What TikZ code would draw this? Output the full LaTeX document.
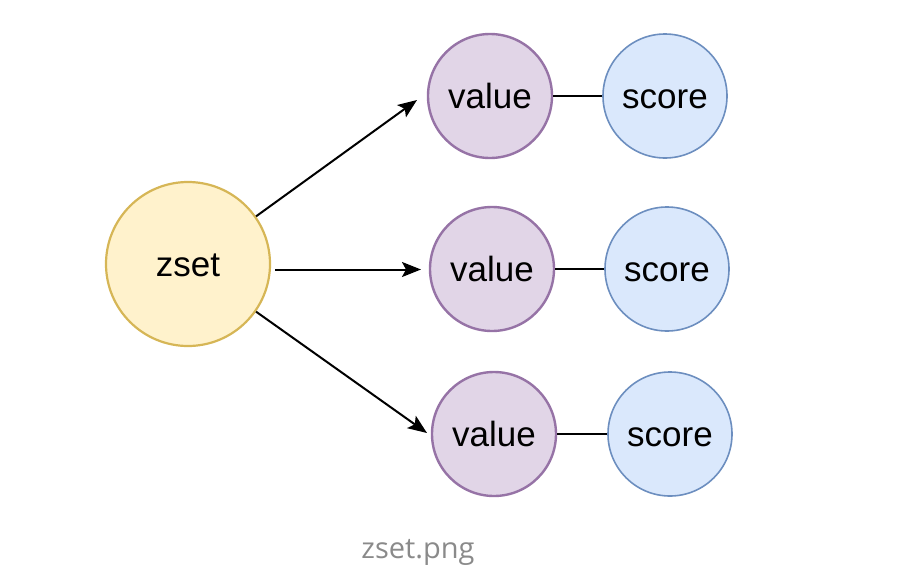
\documentclass[tikz,border=0pt]{standalone}
\usepackage{fontspec}
\setmainfont{Liberation Sans}
\newfontfamily\capfont{Open Sans}
\usetikzlibrary{arrows.meta}
\definecolor{zfill}{HTML}{FFF2CC}
\definecolor{zdraw}{HTML}{D6B656}
\definecolor{vfill}{HTML}{E1D5E7}
\definecolor{vdraw}{HTML}{9673A6}
\definecolor{sfill}{HTML}{DAE8FC}
\definecolor{sdraw}{HTML}{6C8EBF}
\definecolor{capgray}{HTML}{8A8A8A}
\begin{document}
\begin{tikzpicture}[x=1pt,y=-1pt,
  txt/.style={font=\fontsize{35}{40}\selectfont,text height=25pt,text depth=0pt},
  zsetnode/.style={circle,draw=zdraw,fill=zfill,line width=2.2pt,minimum size=164pt,inner sep=0pt,txt},
  valnode/.style={circle,draw=vdraw,fill=vfill,line width=2.4pt,minimum size=124pt,inner sep=0pt,txt},
  scorenode/.style={circle,draw=sdraw,fill=sfill,line width=1.6pt,minimum size=124pt,inner sep=0pt,txt},
  arr/.style={-{Stealth[length=19pt,width=15pt,inset=4pt]},line width=2pt},
  link/.style={line width=2pt}]
\useasboundingbox (0,0) rectangle (900,584);
\node[zsetnode] (z) at (188,264) {zset};
\node[valnode] (v1) at (490,96) {value};
\node[scorenode] (s1) at (665,96) {score};
\node[valnode] (v2) at (492,269) {value};
\node[scorenode] (s2) at (667,269) {score};
\node[valnode] (v3) at (494,434) {value};
\node[scorenode] (s3) at (670,434) {score};
\coordinate (t1) at (417,100);
\coordinate (t2) at (421,269.5);
\coordinate (t3) at (427,433);
\coordinate (z2) at (275,269.5);
\draw[arr] (z.35) -- (t1);
\draw[arr] (z2) -- (t2);
\draw[arr] (z.-35) -- (t3);
\draw[link] (v1) -- (s1);
\draw[link] (v2) -- (s2);
\draw[link] (v3) -- (s3);
\node[font=\capfont\fontsize{29}{34}\selectfont,text=capgray] (cap) at (418,552) {zset.png};
\end{tikzpicture}
\end{document}
